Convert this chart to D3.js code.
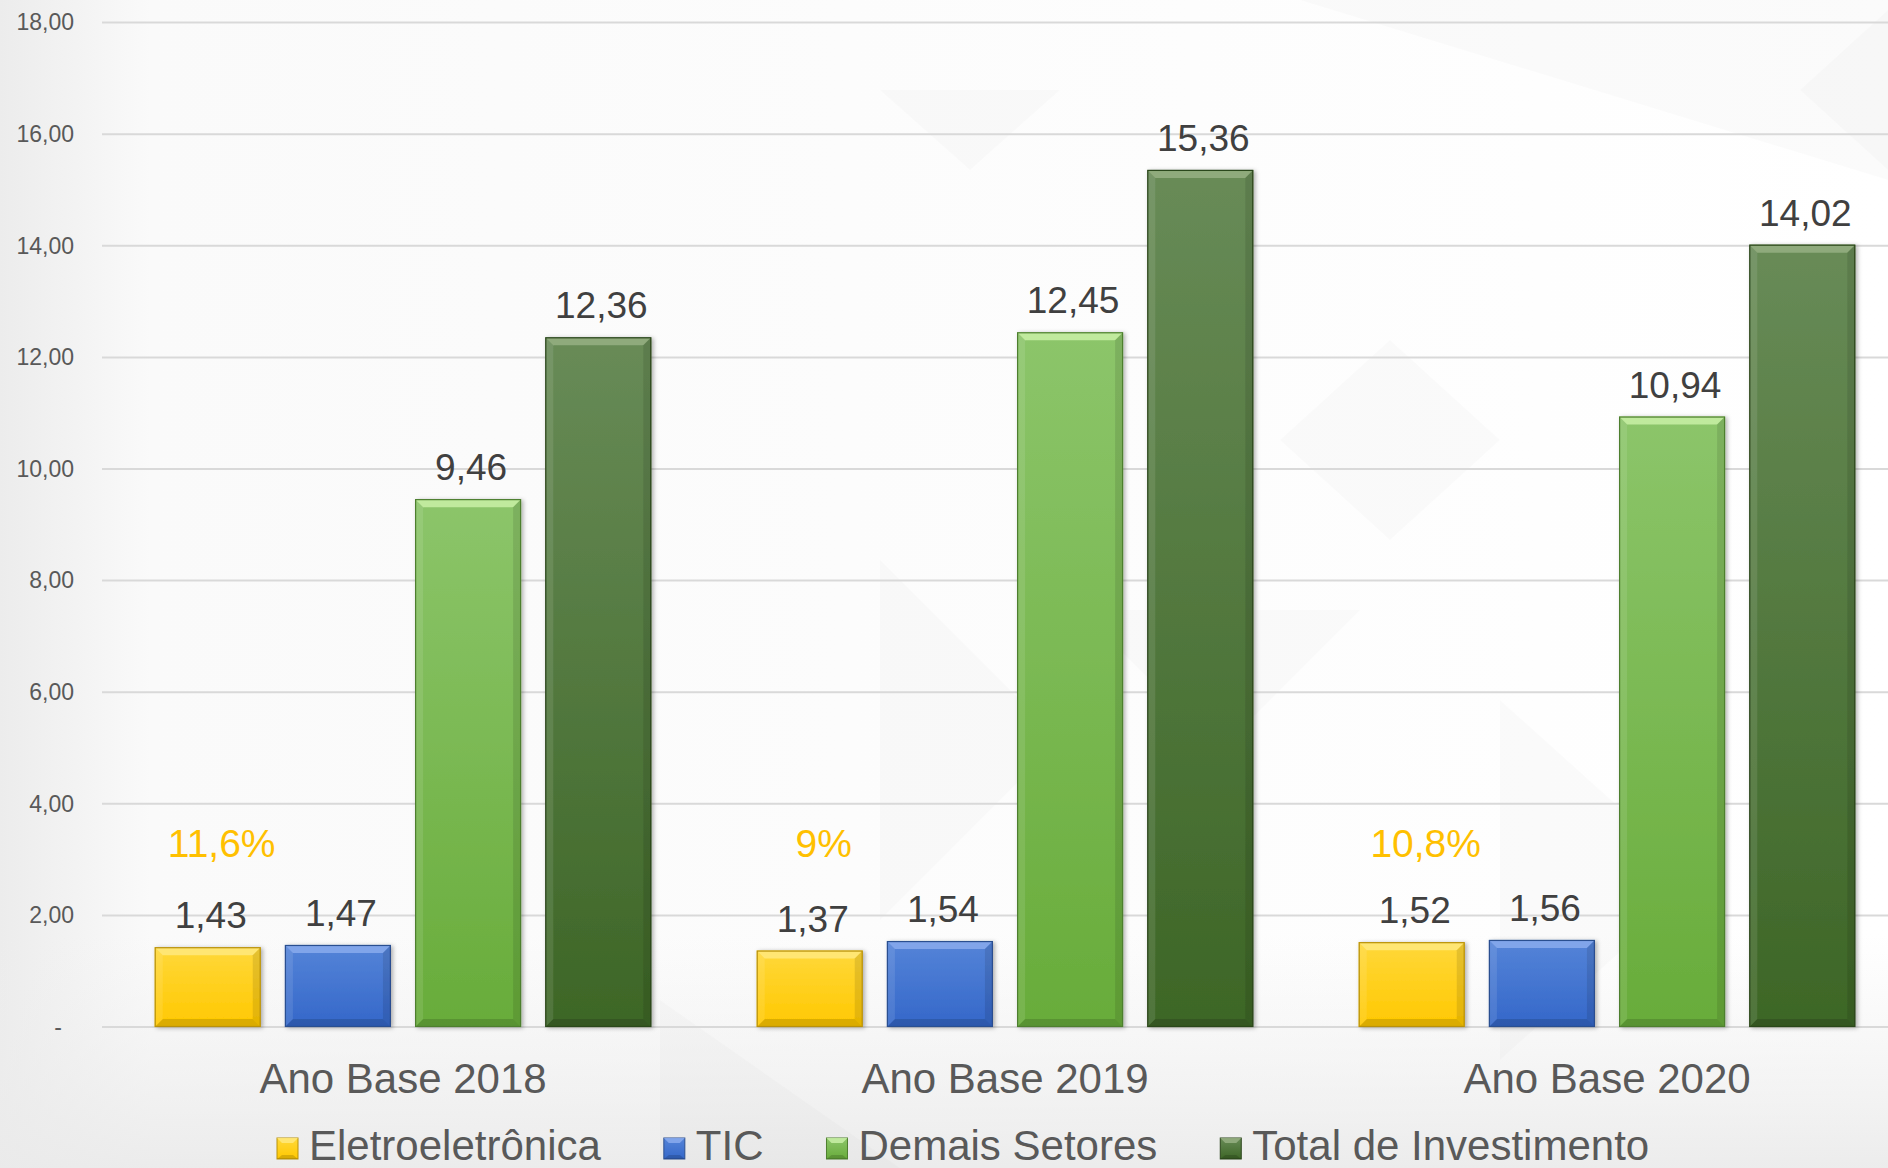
<!DOCTYPE html>
<html>
<head>
<meta charset="utf-8">
<script src="https://cdn.jsdelivr.net/npm/d3@7"></script>
<style>
  html, body { margin: 0; padding: 0; background: #fff; }
  svg { display: block; }
  text { font-family: "Liberation Sans", Arial, sans-serif; }
</style>
</head>
<body>
<svg id="chart" width="1888" height="1168"></svg>
<script>
// dados (R$ bilhões)
const anos = ["Ano Base 2018", "Ano Base 2019", "Ano Base 2020"];
const setores = ["Eletroeletrônica", "TIC", "Demais Setores", "Total de Investimento"];
const eletro = [1.43, 1.37, 1.52];
const tic = [1.47, 1.54, 1.56];
const demais = [9.46, 12.45, 10.94];
const total = [12.36, 15.36, 14.02];
const participacao = ["11,6%", "9%", "10,8%"];   // eletro / total
const yTicks = [0, 2, 4, 6, 8, 10, 12, 14, 16, 18];

const series = [eletro, tic, demais, total];

// cores: [topo, base, bevel, borda]
const cores = [
  ["#ffd83a", "#ffc800", "#ffe87a", "#b8910a"],
  ["#5584d8", "#3467c9", "#86a8ec", "#2c4f90"],
  ["#8cc56a", "#68ac3a", "#c5eda3", "#4e7f2f"],
  ["#688b57", "#3d6626", "#93ad80", "#2c461c"]
];

const W = 1888, H = 1168;
const svg = d3.select("#chart");
const defs = svg.append("defs");

// fundo
const bgH = defs.append("linearGradient").attr("id", "bgH").attr("x1", 0).attr("x2", 1).attr("y1", 0).attr("y2", 0);
bgH.append("stop").attr("offset", 0).attr("stop-color", "#ececec");
bgH.append("stop").attr("offset", 0.08).attr("stop-color", "#fafafa");
bgH.append("stop").attr("offset", 1).attr("stop-color", "#ffffff");
const bgV = defs.append("linearGradient").attr("id", "bgV").attr("x1", 0).attr("x2", 0).attr("y1", 0).attr("y2", 1);
bgV.append("stop").attr("offset", 0.8).attr("stop-color", "#efefef").attr("stop-opacity", 0);
bgV.append("stop").attr("offset", 1).attr("stop-color", "#eaeaea").attr("stop-opacity", 0.9);

svg.append("rect").attr("width", W).attr("height", H).attr("fill", "url(#bgH)");
svg.append("rect").attr("width", W).attr("height", H).attr("fill", "url(#bgV)");

// formas decorativas bem claras
const deco = [
  [[880, 90], [1060, 90], [970, 170]],
  [[1300, 0], [1888, 0], [1888, 180]],
  [[1390, 340], [1500, 440], [1390, 540], [1280, 440]],
  [[1800, 90], [1888, 170], [1888, 10]],
  [[880, 560], [1060, 740], [880, 920]],
  [[1080, 610], [1360, 610], [1220, 750]],
  [[660, 1000], [900, 1168], [660, 1168]],
  [[1500, 700], [1700, 880], [1500, 1060]]
];
svg.append("g").selectAll("polygon").data(deco).join("polygon")
  .attr("points", d => d.map(p => p.join(",")).join(" "))
  .attr("fill", "#000").attr("opacity", 0.014);

// sombra
const sh = defs.append("filter").attr("id", "sombra").attr("x", "-10%").attr("y", "-5%").attr("width", "130%").attr("height", "115%");
sh.append("feDropShadow").attr("dx", 2).attr("dy", 1).attr("stdDeviation", 2)
  .attr("flood-color", "#000").attr("flood-opacity", 0.3);

cores.forEach((c, i) => {
  const g = defs.append("linearGradient").attr("id", "grad" + i)
    .attr("x1", 0).attr("x2", 0).attr("y1", 0).attr("y2", 1);
  g.append("stop").attr("offset", 0).attr("stop-color", c[0]);
  g.append("stop").attr("offset", 1).attr("stop-color", c[1]);
});

// escalas
const x0 = d3.scaleBand().domain(anos).range([102, 1908]);
const x1 = d3.scaleBand().domain(setores).range([0, x0.bandwidth()])
  .paddingInner(0.186).paddingOuter(0.405);
const y = d3.scaleLinear().domain([0, 18]).range([1027, 22.6]);

const br = d3.formatLocale({ decimal: ",", thousands: ".", grouping: [3], currency: ["R$", ""] });
const fmt = br.format(".2f");

// eixo y + grade
const yAxis = svg.append("g")
  .attr("transform", "translate(102,0)")
  .call(d3.axisLeft(y).tickValues(yTicks).tickSize(0).tickPadding(28)
    .tickFormat(d => d === 0 ? "-" : fmt(d)));
yAxis.select(".domain").remove();
yAxis.selectAll("text").attr("font-size", 23).attr("fill", "#595959")
  .attr("font-family", "Liberation Sans, Arial, sans-serif");
yAxis.selectAll(".tick").filter(d => d === 0).select("text").attr("dx", -12);

svg.append("g").selectAll("line").data(yTicks).join("line")
  .attr("x1", 102).attr("x2", W)
  .attr("y1", d => y(d)).attr("y2", d => y(d))
  .attr("stroke", "#d9d9d9").attr("stroke-width", 2);

// barras
const dados = [];
anos.forEach((a, i) => setores.forEach((s, j) => dados.push({ ano: a, setor: s, j: j, v: series[j][i] })));

const barras = svg.append("g").selectAll("g.bar").data(dados).join("g").attr("class", "bar")
  .attr("filter", "url(#sombra)");

barras.each(function (d) {
  const g = d3.select(this);
  const bx = x0(d.ano) + x1(d.setor), bw = x1.bandwidth();
  const by = y(d.v), bh = y(0) - y(d.v);
  const b = Math.min(8, bh / 2);
  const c = cores[d.j];
  const pts = p => p.map(q => q.join(",")).join(" ");
  g.append("rect").attr("x", bx).attr("y", by).attr("width", bw).attr("height", bh)
    .attr("fill", "url(#grad" + d.j + ")");
  // bevel
  g.append("polygon").attr("points", pts([[bx, by], [bx + bw, by], [bx + bw - b, by + b], [bx + b, by + b]]))
    .attr("fill", c[2]).attr("opacity", 0.9);
  g.append("polygon").attr("points", pts([[bx, by], [bx + b, by + b], [bx + b, by + bh - b], [bx, by + bh]]))
    .attr("fill", "#fff").attr("opacity", 0.1);
  g.append("polygon").attr("points", pts([[bx + bw, by], [bx + bw, by + bh], [bx + bw - b, by + bh - b], [bx + bw - b, by + b]]))
    .attr("fill", "#000").attr("opacity", 0.1);
  g.append("polygon").attr("points", pts([[bx, by + bh], [bx + b, by + bh - b], [bx + bw - b, by + bh - b], [bx + bw, by + bh]]))
    .attr("fill", "#000").attr("opacity", 0.14);
  g.append("rect").attr("x", bx + 0.5).attr("y", by + 0.5).attr("width", bw - 1).attr("height", bh - 1)
    .attr("fill", "none").attr("stroke", c[3]).attr("stroke-width", 1.2);
});

// rótulos de valor
svg.append("g").selectAll("text").data(dados).join("text")
  .attr("x", d => x0(d.ano) + x1(d.setor) + x1.bandwidth() / 2 + 3)
  .attr("y", d => y(d.v) - 19)
  .attr("text-anchor", "middle")
  .attr("font-size", 37).attr("fill", "#404040")
  .text(d => fmt(d.v));

// participação eletroeletrônica
svg.append("g").selectAll("text").data(anos).join("text")
  .attr("x", (a) => x0(a) + x1(setores[0]) + x1.bandwidth() / 2 + 14)
  .attr("y", y(3.05))
  .attr("text-anchor", "middle")
  .attr("font-family", "Lato, 'Open Sans', sans-serif")
  .attr("font-size", 39).attr("fill", "#ffc000")
  .text((a, i) => participacao[i]);

// rótulos das categorias
svg.append("g").selectAll("text").data(anos).join("text")
  .attr("x", a => x0(a) + x0.bandwidth() / 2)
  .attr("y", 1093)
  .attr("text-anchor", "middle")
  .attr("font-size", 42).attr("fill", "#595959")
  .text(a => a);

// legenda
const leg = svg.append("g").attr("transform", "translate(277,0)");
let lx = 0;
setores.forEach((s, j) => {
  const c = cores[j];
  const it = leg.append("g").attr("transform", "translate(" + lx + ",0)");
  const sw = 21, sy = 1138;
  it.append("rect").attr("x", 0).attr("y", sy).attr("width", sw).attr("height", sw)
    .attr("fill", "url(#grad" + j + ")").attr("stroke", c[3]).attr("stroke-width", 1);
  it.append("polygon").attr("points", [[0, sy], [sw, sy], [sw - 5, sy + 5], [5, sy + 5]].map(p => p.join(",")).join(" "))
    .attr("fill", c[2]).attr("opacity", 0.9);
  it.append("polygon").attr("points", [[0, sy + sw], [5, sy + sw - 4], [sw - 5, sy + sw - 4], [sw, sy + sw]].map(p => p.join(",")).join(" "))
    .attr("fill", "#000").attr("opacity", 0.15);
  const t = it.append("text").attr("x", 32).attr("y", 1160)
    .attr("font-size", 42).attr("fill", "#595959").text(s);
  lx += 32 + t.node().getComputedTextLength() + 63;
});
</script>
</body>
</html>
